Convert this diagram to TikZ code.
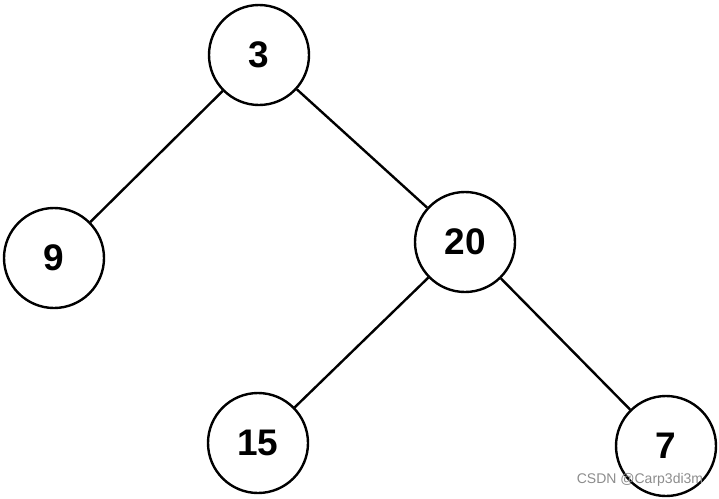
\documentclass[tikz,border=0pt]{standalone}
\usepackage{fontspec}
\setmainfont{Liberation Sans}
\usetikzlibrary{automata,positioning}

\begin{document}
\begin{tikzpicture}[x=1pt,y=1pt,on grid,auto,line width=2.4pt,
  every state/.style={draw,circle,minimum size=100pt,inner sep=0pt,
    font=\fontsize{37}{42}\selectfont\bfseries}]
\useasboundingbox (0,0) rectangle (719,-498);
\node[state] (n3) at (259,-55)                      {3};
\node[state] (n9)  [below left=203pt and 205pt of n3]  {9};
\node[state] (n20) [below right=187pt and 206pt of n3] {20};
\node[state] (n15) [below left=201pt and 207pt of n20] {15};
\node[state] (n7)  [below right=204pt and 201pt of n20] {7};
\path (n3) edge (n9);
\path (n3) edge (n20);
\path (n20) edge (n15);
\path (n20) edge (n7);
\node[text=black!45,font=\fontsize{14}{16}\selectfont] (mark) at (640,-480) {CSDN @Carp3di3m};
\end{tikzpicture}
\end{document}
